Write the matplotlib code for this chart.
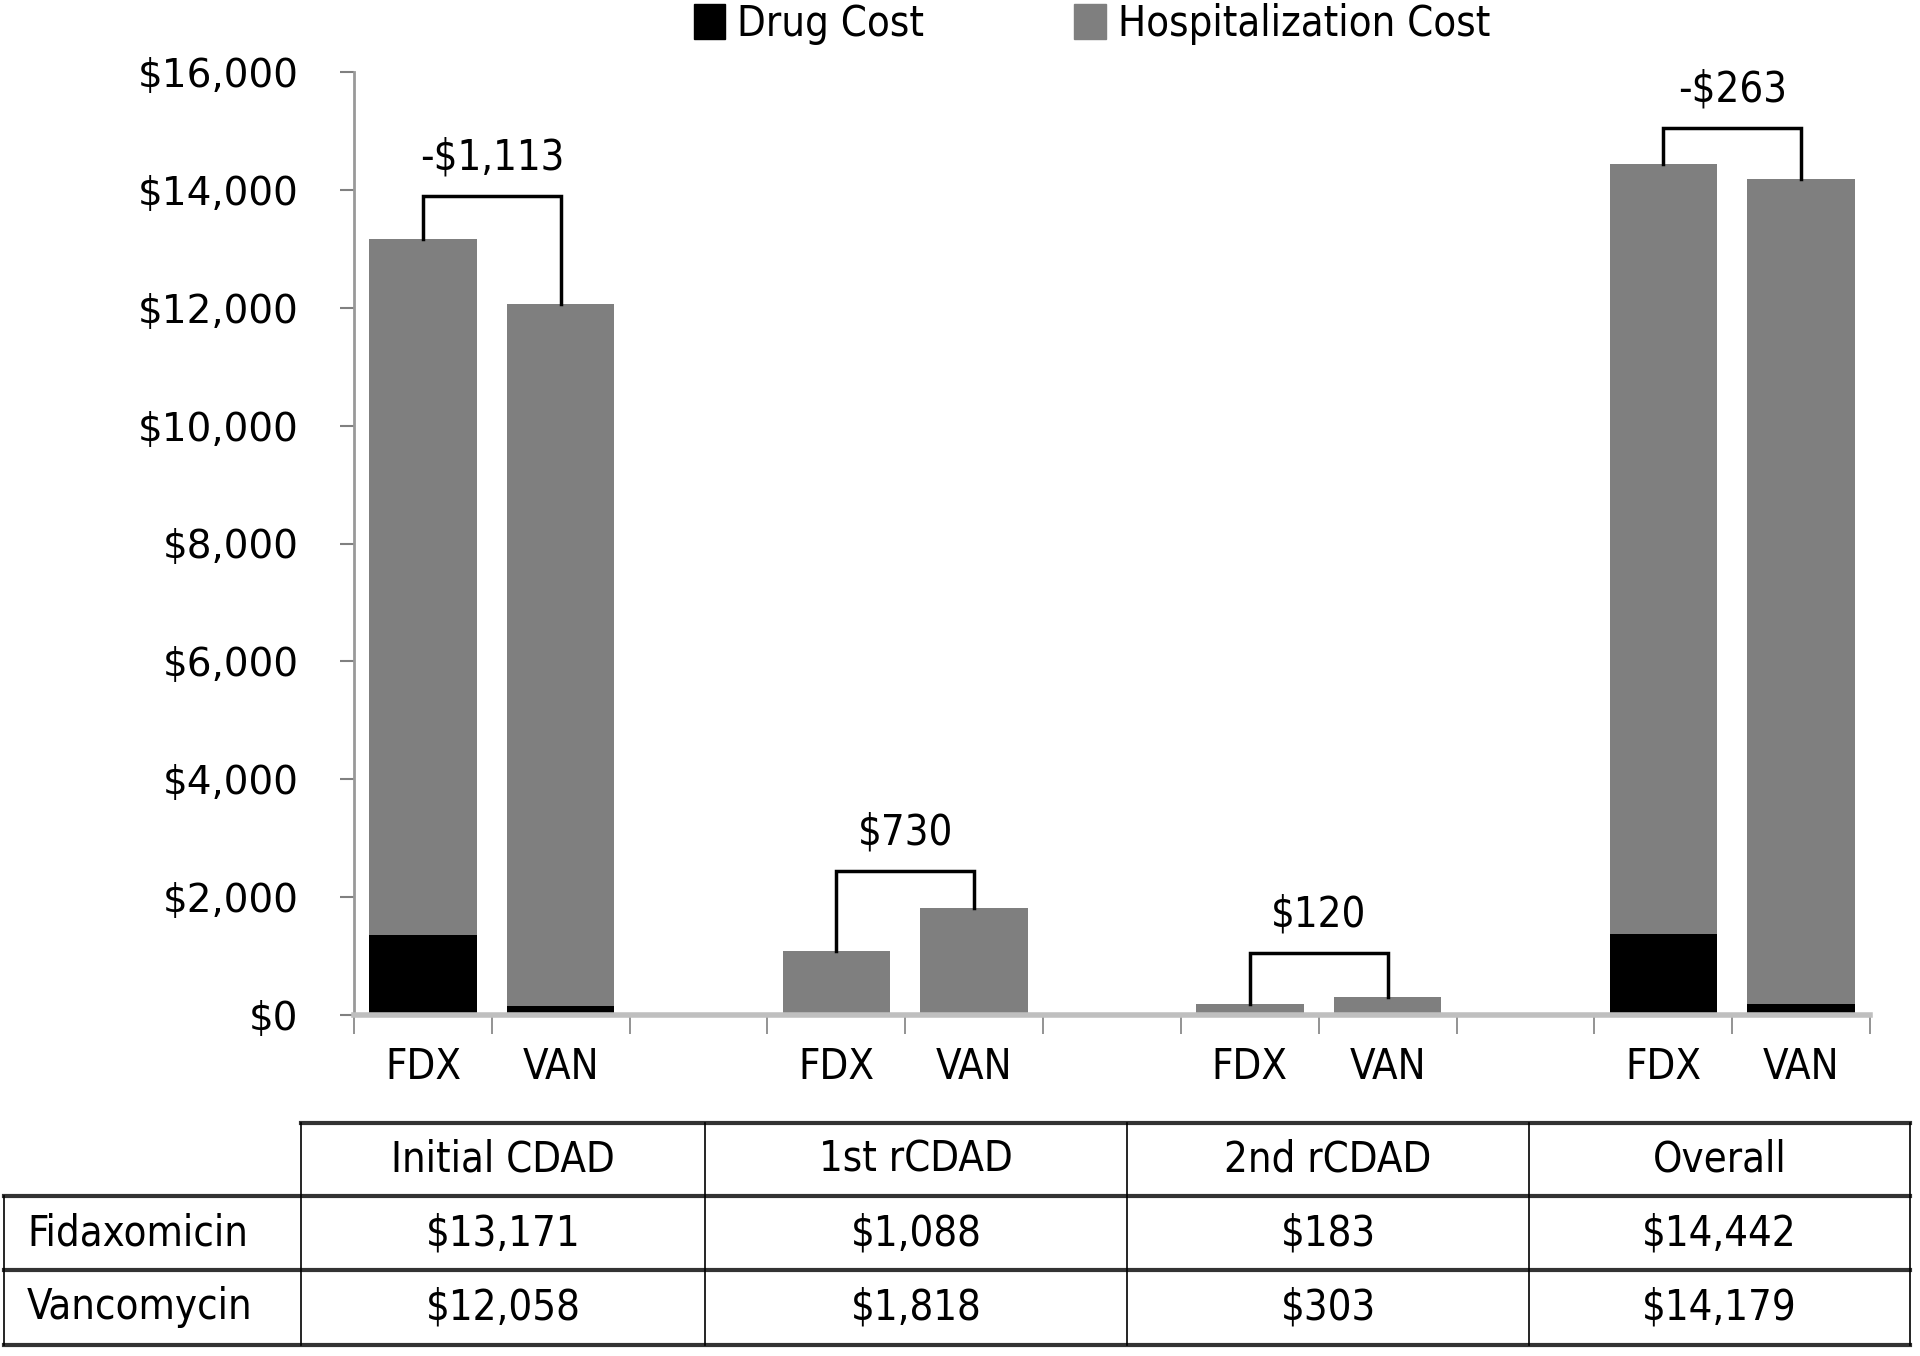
import matplotlib
matplotlib.use("Agg")
import matplotlib.pyplot as plt
from matplotlib.lines import Line2D
from matplotlib.patches import Patch
from matplotlib.ticker import FuncFormatter
from matplotlib import font_manager

groups = ["Initial CDAD", "1st rCDAD", "2nd rCDAD", "Overall"]
fdx_total = [13171, 1088, 183, 14442]
van_total = [12058, 1818, 303, 14179]
fdx_drug = [1350, 0, 0, 1370]
van_drug = [150, 0, 0, 190]
diff_labels = ["-$1,113", "$730", "$120", "-$263"]
bracket_y = [13900, 2450, 1060, 15050]
row_names = ["Fidaxomicin", "Vancomycin"]
fdx_cells = ["$13,171", "$1,088", "$183", "$14,442"]
van_cells = ["$12,058", "$1,818", "$303", "$14,179"]

GRAY = "#7f7f7f"
AXC = "#bfbfbf"
NARROW = font_manager.FontProperties(family="DejaVu Sans", stretch="condensed", size=30)

W, H = 1920, 1356
fig = plt.figure(figsize=(W / 100, H / 100), dpi=100)
ax = fig.add_axes([354 / W, 1 - 1015 / H, 1516 / W, (1015 - 72) / H])

fdx_x = [3 * g for g in range(4)]
van_x = [3 * g + 1 for g in range(4)]
fdx_hosp = [t - d for t, d in zip(fdx_total, fdx_drug)]
van_hosp = [t - d for t, d in zip(van_total, van_drug)]
bw = 0.78
ax.bar(fdx_x, fdx_drug, bw, color="black", zorder=2)
ax.bar(fdx_x, fdx_hosp, bw, bottom=fdx_drug, color=GRAY, zorder=2)
ax.bar(van_x, van_drug, bw, color="black", zorder=2)
ax.bar(van_x, van_hosp, bw, bottom=van_drug, color=GRAY, zorder=2)

# difference brackets
for g in range(4):
    x1, x2 = fdx_x[g], van_x[g]
    yb = bracket_y[g]
    ax.plot([x1, x1, x2, x2], [fdx_total[g], yb, yb, van_total[g]],
            color="black", lw=2.5, zorder=3, solid_joinstyle="miter")
    ax.text((x1 + x2) / 2, yb + 650, diff_labels[g], ha="center", va="center",
            fontproperties=NARROW)

ax.set_xlim(-0.5, 10.5)
ax.set_ylim(0, 16000)
ax.set_yticks(range(0, 16001, 2000))
ax.yaxis.set_major_formatter(FuncFormatter(lambda v, p: "${:,.0f}".format(v)))
ax.tick_params(axis="y", direction="out", length=10, width=1.5, color="#808080",
               labelsize=28, pad=30)
ax.set_xticks(fdx_x + van_x)
ax.set_xticklabels(["FDX"] * 4 + ["VAN"] * 4, fontproperties=NARROW)
ax.set_xticks([i - 0.5 for i in range(12)], minor=True)
ax.tick_params(axis="x", which="major", length=0, pad=22)
ax.tick_params(axis="x", which="minor", direction="out", length=14, width=1.2,
               color="#808080")
for s in ["top", "right"]:
    ax.spines[s].set_visible(False)
ax.spines["left"].set_color("#999999")
ax.spines["left"].set_linewidth(2)
ax.spines["bottom"].set_color(AXC)
ax.spines["bottom"].set_linewidth(4)

handles = [Patch(color="black"), Patch(color=GRAY)]
fig.legend(handles, ["Drug Cost", "Hospitalization Cost"], loc="center",
           bbox_to_anchor=(1092 / W, 1 - 24 / H), ncol=2, frameon=False,
           handlelength=0.75, handleheight=0.9, handletextpad=0.3,
           columnspacing=3.6, prop=NARROW)

# table under the chart
col_x = [301, 705, 1127, 1529, 1910]
row_y = [1123, 1196, 1270, 1345]
left_x = 4


def fx(px):
    return px / W


def fy(py):
    return 1 - py / H


fig.add_artist(Line2D([fx(col_x[0]), fx(col_x[-1])], [fy(row_y[0])] * 2,
                      color="#333333", lw=3))
for yy in row_y[1:]:
    fig.add_artist(Line2D([fx(left_x), fx(col_x[-1])], [fy(yy)] * 2,
                          color="#333333", lw=3))
for xx in col_x:
    fig.add_artist(Line2D([fx(xx)] * 2, [fy(row_y[0]), fy(row_y[-1])],
                          color="black", lw=1.2))
fig.add_artist(Line2D([fx(left_x)] * 2, [fy(row_y[1]), fy(row_y[-1])],
                      color="black", lw=1.2))

for i, name in enumerate(groups):
    cx = (col_x[i] + col_x[i + 1]) / 2
    fig.text(fx(cx), fy((row_y[0] + row_y[1]) / 2), name, ha="center",
             va="center", fontproperties=NARROW)
    fig.text(fx(cx), fy((row_y[1] + row_y[2]) / 2), fdx_cells[i], ha="center",
             va="center", fontproperties=NARROW)
    fig.text(fx(cx), fy((row_y[2] + row_y[3]) / 2), van_cells[i], ha="center",
             va="center", fontproperties=NARROW)
for r, name in enumerate(row_names):
    fig.text(fx(27), fy((row_y[r + 1] + row_y[r + 2]) / 2), name, ha="left",
             va="center", fontproperties=NARROW)

fig.savefig("out.png", dpi=100, facecolor="white")
